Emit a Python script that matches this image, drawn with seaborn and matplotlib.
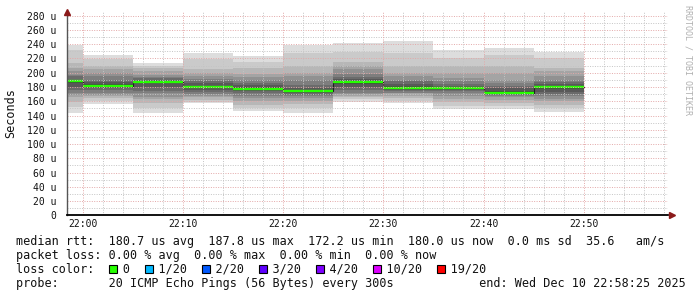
import matplotlib
matplotlib.use("Agg")
import numpy as np
import pandas as pd
import seaborn as sns
import matplotlib.pyplot as plt
from matplotlib.patches import Rectangle

# ---------------- data ----------------
slot_start = ["21:55", "22:00", "22:05", "22:10", "22:15", "22:20",
              "22:25", "22:30", "22:35", "22:40", "22:45"]
median_us = [187.8, 181.5, 187.0, 179.5, 177.8, 173.8, 187.5, 179.0, 178.0, 172.2, 180.0]

# 20 sorted ping RTTs (microseconds) per 5-minute slot
p_2155 = [144, 152, 159, 166, 169, 172, 176, 180, 186, 187.5, 188, 188, 190, 195, 197, 202, 206, 214, 232, 239]
p_2200 = [156, 160, 165, 167, 169, 172, 176, 178, 180, 181, 182, 184, 187, 190, 195, 200, 205, 209, 219, 225]
p_2205 = [144, 150, 157, 163, 166, 171, 175, 180, 185, 187, 187, 188, 190, 192, 194, 197, 202, 207, 210, 213]
p_2210 = [157, 159, 162, 166, 168, 170, 173, 176, 178, 179, 180, 182, 185, 188, 191, 196, 200, 205, 219, 227]
p_2215 = [146, 150, 155, 160, 165, 168, 171, 174, 176, 177.5, 178, 180, 183, 186, 190, 194, 198, 206, 215, 224]
p_2220 = [144, 150, 156, 161, 164, 167, 169, 171, 173, 174, 174, 176, 179, 183, 190, 195, 199, 210, 228, 239]
p_2225 = [159, 163, 166, 168, 170, 172, 176, 180, 184, 187, 188, 189, 191, 194, 198, 205, 210, 215, 229, 242]
p_2230 = [157, 160, 164, 168, 171, 172, 174, 176, 178, 179, 179, 181, 184, 188, 190, 195, 199, 210, 227, 244]
p_2235 = [149, 153, 159, 163, 167, 171, 174, 176, 177, 178, 178, 180, 182, 184, 188, 193, 199, 210, 220, 232]
p_2240 = [149, 153, 157, 162, 166, 168, 169, 170, 171, 172, 172.4, 174, 178, 181, 185, 190, 200, 209, 225, 235]
p_2245 = [145, 150, 155, 160, 163, 167, 170, 173, 177, 179.5, 180.5, 182, 184, 187, 190, 196, 202, 207, 220, 229]
pings = [p_2155, p_2200, p_2205, p_2210, p_2215, p_2220, p_2225, p_2230, p_2235, p_2240, p_2245]

x_ticks = ["22:00", "22:10", "22:20", "22:30", "22:40", "22:50"]
y_ticks = [0, 20, 40, 60, 80, 100, 120, 140, 160, 180, 200, 220, 240, 260, 280]
view_start, view_end = "21:58:25", "22:58:25"
step_min = 5

legend_lines = [
    "median rtt:  180.7 us avg  187.8 us max  172.2 us min  180.0 us now  0.0 ms sd  35.6   am/s",
    "packet loss: 0.00 % avg  0.00 % max  0.00 % min  0.00 % now",
    "loss color:    0    1/20    2/20    3/20    4/20    10/20    19/20",
    "probe:       20 ICMP Echo Pings (56 Bytes) every 300s            end: Wed Dec 10 22:58:25 2025",
]
loss_labels = ["0", "1/20", "2/20", "3/20", "4/20", "10/20", "19/20"]
loss_colors = ["#26ff00", "#00b8ff", "#0059ff", "#5e00ff", "#7e00ff", "#dd00ff", "#ff0000"]
loss_box_col = [13, 18, 26, 34, 42, 50, 59]

# ---------------- helpers ----------------
def to_min(s):
    parts = [int(v) for v in s.split(":")]
    h, m = parts[0], parts[1]
    sec = parts[2] if len(parts) > 2 else 0
    return (h - 22) * 60 + m + sec / 60.0

starts = np.array([to_min(s) for s in slot_start])
W, H = 697, 297
sns.set_style("white")
plt.rcParams["font.family"] = ["DejaVu Sans Mono"]

fig = plt.figure(figsize=(W / 100, H / 100), dpi=100)
ax_l, ax_r, ax_t, ax_b = 67, 668, 12, 215.3
ax = fig.add_axes([ax_l / W, 1 - ax_b / H, (ax_r - ax_l) / W, (ax_b - ax_t) / H])
ax.set_facecolor("white")

# smoke layers
half = 10
for i in range(1, half + 1):
    g = int(190 / half * (half - i) + 50)
    col = "#%02x%02x%02x" % (g, g, g)
    lo = np.array([p[i - 1] for p in pings])
    hi = np.array([p[20 - i] for p in pings])
    ax.bar(starts, hi - lo, bottom=lo, width=step_min, align="edge",
           color=col, linewidth=0, zorder=2)

# median: thin dark step line + green loss-coloured segments
xs = list(starts) + [starts[-1] + step_min]
ys = list(median_us) + [median_us[-1]]
df = pd.DataFrame({"t": xs, "rtt": ys})
sns.lineplot(data=df, x="t", y="rtt", ax=ax, drawstyle="steps-post",
             color="#202020", linewidth=0.8, zorder=4)
ax.hlines(median_us, starts, starts + step_min, colors=loss_colors[0],
          linewidth=1.7, zorder=5)

x0, x1 = to_min(view_start), to_min(view_end)
ymax = 285.2
ax.set_xlim(x0, x1)
ax.set_ylim(0, ymax)

# grid
minor_c = "#c4c4c4"
major_c = "#e3a8a8"
dot = (0, (1, 1.5))
for v in np.arange(0, ymax, 10):
    is_major = (v % 20 == 0)
    if v == 0:
        continue
    ax.axhline(v, color=major_c if is_major else minor_c, lw=0.7,
               linestyle=dot, zorder=6)
for t in np.arange(0, x1, 2):
    is_major = (t % 10 == 0)
    ax.axvline(t, color=major_c if is_major else minor_c, lw=0.7,
               linestyle=dot, zorder=6)

ax.set_xticks([to_min(s) for s in x_ticks])
ax.set_xticklabels(x_ticks)
ax.set_yticks(y_ticks)
ax.set_yticklabels([("%d u" % v) if v else "0" for v in y_ticks])
ax.tick_params(axis="both", length=0, labelsize=7, colors="#111111")
ax.tick_params(axis="y", pad=7.5)
ax.tick_params(axis="x", pad=3)
ax.set_xlabel("")
ax.set_ylabel("")

for s in ["top", "right"]:
    ax.spines[s].set_visible(False)
ax.spines["left"].set_color("#555555")
ax.spines["left"].set_linewidth(1.0)
ax.spines["bottom"].set_color("#000000")
ax.spines["bottom"].set_linewidth(1.3)
for s in ["left", "bottom"]:
    ax.spines[s].set_zorder(7)

# arrows
arrow_c = "#8b1a1a"
ax.plot([x0], [ymax], marker="^", color=arrow_c, markersize=4, clip_on=False, zorder=8)
ax.plot([x1 + 0.35], [0], marker=">", color=arrow_c, markersize=4, clip_on=False, zorder=8)

# y label
fig.text(11 / W, 1 - 113 / H, "Seconds", rotation=90, fontsize=8.5,
         ha="center", va="center", color="#111111")

# watermark
fig.text(688 / W, 1 - 60 / H, "RRDTOOL / TOBI OETIKER", rotation=270,
         fontsize=6, ha="center", va="center", color="#b0b0b0")

# legend text
cw = 7.12
tx0 = 16
baselines = [244.5, 258.6, 272.7, 286.8]
for line, by in zip(legend_lines, baselines):
    fig.text(tx0 / W, 1 - by / H, line, fontsize=8.5, ha="left",
             va="baseline", color="#111111")

bs = 8
for col_idx, c in zip(loss_box_col, loss_colors):
    bx = tx0 + col_idx * cw + 0.5
    by_top = 264.5
    fig.patches.append(Rectangle((bx / W, 1 - (by_top + bs) / H), bs / W, bs / H,
                                 transform=fig.transFigure, facecolor=c,
                                 edgecolor="black", linewidth=0.8))

fig.savefig("out.png", dpi=100)
